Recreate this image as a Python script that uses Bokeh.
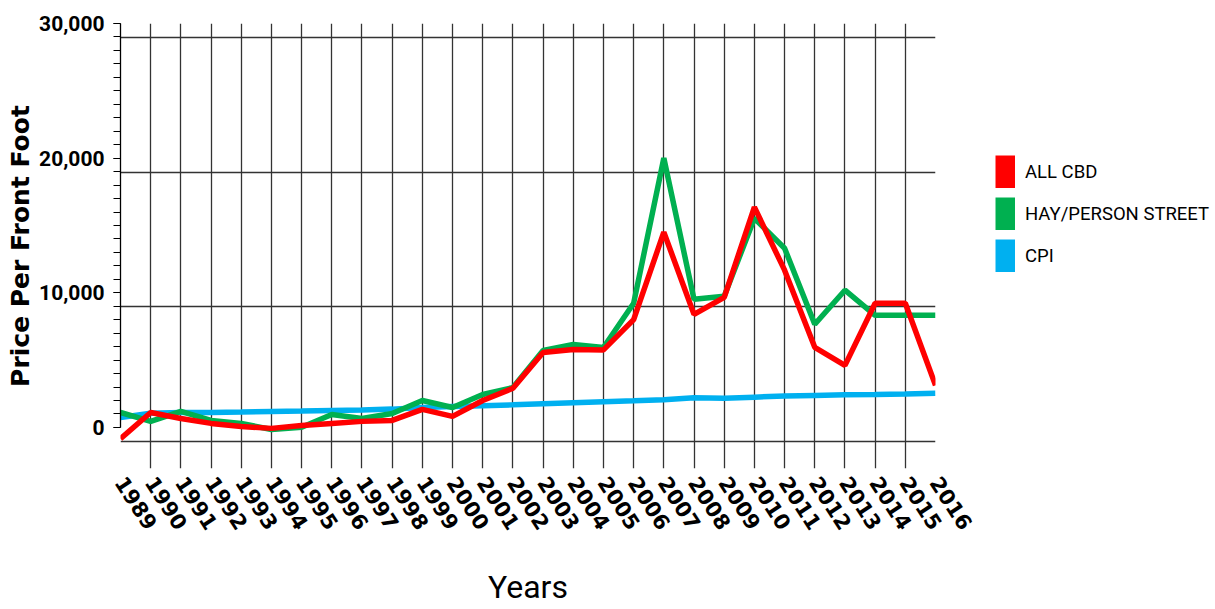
import math
from bokeh.plotting import figure
from bokeh.layouts import row
from bokeh.models import (Range1d, FixedTicker, SingleIntervalTicker, NumeralTickFormatter,
                          Legend, LegendItem, ColumnDataSource)
from bokeh.embed import file_html
from bokeh.resources import INLINE

years = list(range(1989, 2017))
all_cbd = [-840, 1110, 660, 300, 70, -70, 150, 300, 450, 520,
           1340, 820, 2000, 2910, 5560, 5790, 5760, 8010, 14500, 8400,
           9660, 16360, 11680, 5950, 4610, 9220, 9220, 3120]
hay_person = [1110, 450, 1190, 520, 300, -150, 10, 960, 670, 1040,
              2000, 1480, 2450, 2960, 5720, 6160, 5940, 9220, 20000, 9520,
              9740, 15540, 13310, 7660, 10190, 8330, 8330, 8330]
cpi = [740, 1060, 1110, 1110, 1140, 1190, 1220, 1260, 1300, 1360,
       1480, 1560, 1610, 1680, 1760, 1840, 1910, 1980, 2060, 2210,
       2160, 2250, 2330, 2380, 2430, 2450, 2480, 2530]
series_names = ["ALL CBD", "HAY/PERSON STREET", "CPI"]
series_cols = ["cbd", "hay", "cpi"]
series_colors = ["#FF0000", "#00B050", "#00B0F0"]
y_major = [0, 10000, 20000, 30000]

# style: the horizontal gridlines of the original sit slightly below the labelled ticks
grid_offset = -1040

src = ColumnDataSource(dict(year=years, cbd=all_cbd, hay=hay_person, cpi=cpi))

p = figure(width=985, height=609, output_backend="svg", toolbar_location=None,
           x_range=Range1d(years[0], years[-1]), y_range=Range1d(-3050, 30000),
           min_border_left=120, min_border_right=50, min_border_top=23, min_border_bottom=141)
p.outline_line_color = None
p.background_fill_color = "white"

# grids
p.xgrid.ticker = FixedTicker(ticks=years)
p.ygrid.ticker = FixedTicker(ticks=[t + grid_offset for t in y_major])
for g in (p.xgrid, p.ygrid):
    g.grid_line_color = "#333333"
    g.grid_line_width = 1.3

# y axis
ya = p.yaxis[0]
ya.ticker = SingleIntervalTicker(interval=10000, num_minor_ticks=10)
ya.formatter = NumeralTickFormatter(format="0,0")
ya.bounds = (0, 30000)
ya.axis_line_color = "black"
ya.axis_line_width = 1.3
ya.major_tick_in = 0
ya.major_tick_out = 7
ya.minor_tick_in = 0
ya.minor_tick_out = 7
ya.major_tick_line_color = "black"
ya.minor_tick_line_color = "black"
ya.major_label_text_font = "Roboto"
ya.major_label_text_font_style = "bold"
ya.major_label_text_font_size = "21px"
ya.major_label_text_color = "black"
ya.major_label_standoff = 9
ya.axis_label = "Price Per Front Foot"
ya.axis_label_text_font = "DejaVu Sans"
ya.axis_label_text_font_style = "bold"
ya.axis_label_text_font_size = "25px"
ya.axis_label_text_color = "black"
ya.axis_label_standoff = 1

# x axis
xa = p.xaxis[0]
xa.ticker = FixedTicker(ticks=years)
xa.axis_line_color = None
xa.major_tick_line_color = None
xa.minor_tick_line_color = None
xa.major_label_orientation = -math.radians(57)
xa.major_label_text_font = "DejaVu Sans"
xa.major_label_text_font_style = "bold"
xa.major_label_text_font_size = "21px"
xa.major_label_text_color = "black"
xa.major_label_standoff = 4
xa.axis_label = "Years"
xa.axis_label_text_font = "Roboto"
xa.axis_label_text_font_style = "normal"
xa.axis_label_text_font_size = "32px"
xa.axis_label_text_color = "black"
xa.axis_label_standoff = 29

# lines: CPI first, red on top
for col, color in zip(reversed(series_cols), reversed(series_colors)):
    p.line("year", col, source=src, line_color=color, line_width=5.5)

# legend panel to the right of the chart (its frame lines up with the chart's frame)
leg = figure(width=230, height=609, output_backend="svg", toolbar_location=None,
             x_range=p.x_range, y_range=p.y_range,
             min_border_left=0, min_border_right=0, min_border_top=0, min_border_bottom=0)
leg.axis.visible = False
leg.grid.visible = False
leg.outline_line_color = None
swatches = [leg.line("year", col, source=src, line_color=color, line_width=33,
                     line_cap="butt", visible=False)
            for col, color in zip(series_cols, series_colors)]
items = [LegendItem(label=n, renderers=[r]) for n, r in zip(series_names, swatches)]
legend = Legend(items=items, location=(10, 196), glyph_width=20, glyph_height=33,
                label_height=33, spacing=9, padding=0, margin=0, label_standoff=10,
                border_line_color=None, background_fill_alpha=0,
                label_text_font="Roboto", label_text_font_size="18.5px",
                label_text_color="black")
leg.add_layout(legend, "center")

layout = row(p, leg)
open("out.html", "w").write(file_html(layout, INLINE))
